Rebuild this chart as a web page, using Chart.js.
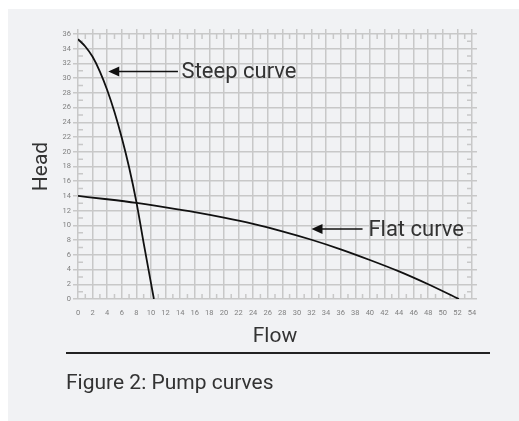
<!DOCTYPE html>
<html>
<head>
<meta charset="utf-8">
<script src="https://cdn.jsdelivr.net/npm/chart.js@4"></script>
<style>
html, body { margin: 0; padding: 0; background: #fff; }
#panel { position: absolute; left: 8px; top: 9px; right: 0; bottom: 0; background: #f1f2f4; }
#wrap { position: absolute; left: 0; top: 0; width: 519px; height: 421px; }
#rule { position: absolute; left: 66px; top: 352px; width: 424px; height: 1.5px; background: #222; }
#caption { position: absolute; left: 66px; top: 370px; font: 21px Roboto, sans-serif; color: #333; }
</style>
</head>
<body>
<div id="panel"></div>
<div id="wrap"><canvas id="chart" width="519" height="421"></canvas></div>
<div id="rule"></div>
<div id="caption">Figure 2: Pump curves</div>
<script>
// pump curves
const steepFlow = [0, 1, 2, 3, 4, 5, 6, 7, 8, 9, 10.4];
const steepHead = [35.3, 34.3, 32.9, 30.9, 28.4, 25.4, 21.9, 17.9, 13.2, 7.6, 0];
const flatFlow = [0, 4, 8, 12, 16, 20, 24, 28, 32, 36, 40, 44, 48, 52.2];
const flatHead = [14, 13.55, 13.05, 12.45, 11.8, 11.05, 10.2, 9.2, 8.05, 6.75, 5.3, 3.75, 2.0, 0];

// axis ranges
const flowMin = 0, flowMax = 54, flowStep = 2;
const headMin = 0, headMax = 36, headStep = 2;

// arrow labels
const noteText = ['Steep curve', 'Flat curve'];
const noteTipFlow = [4.15, 32.0];
const noteTailFlow = [13.7, 39.0];
const noteHead = [30.9, 9.5];
const noteTextFlow = [14.2, 39.8];

const gridColor = '#c8c8c8';
const tickColor = '#808080';
const $ = id => document.getElementById(id);

Chart.defaults.font.family = 'Roboto';

const toPoints = (xs, ys) => xs.map((v, i) => ({x: v, y: ys[i]}));

const extras = {
    id: 'extras',
    beforeDatasetsDraw(chart) {
        const {ctx, chartArea: a, scales: {x, y}} = chart;
        ctx.save();
        ctx.strokeStyle = gridColor;
        ctx.lineWidth = 1.5;
        ctx.beginPath();
        // small inward ticks on odd values
        for (let v = flowMin + 1; v < flowMax; v += 2) {
            const px = x.getPixelForValue(v);
            ctx.moveTo(px, a.bottom); ctx.lineTo(px, a.bottom - 5);
            ctx.moveTo(px, a.top); ctx.lineTo(px, a.top + 5);
        }
        for (let v = headMin + 1; v < headMax; v += 2) {
            const py = y.getPixelForValue(v);
            ctx.moveTo(a.left, py); ctx.lineTo(a.left + 5, py);
            ctx.moveTo(a.right, py); ctx.lineTo(a.right - 5, py);
        }
        ctx.stroke();
        ctx.restore();
    },
    afterDatasetsDraw(chart) {
        const {ctx, scales: {x, y}} = chart;
        ctx.save();
        ctx.strokeStyle = '#111';
        ctx.fillStyle = '#111';
        ctx.lineWidth = 1.5;
        noteText.forEach((t, i) => {
            const tip = x.getPixelForValue(noteTipFlow[i]);
            const tail = x.getPixelForValue(noteTailFlow[i]);
            const py = y.getPixelForValue(noteHead[i]);
            ctx.beginPath();
            ctx.moveTo(tail, py);
            ctx.lineTo(tip + 8, py);
            ctx.stroke();
            ctx.beginPath();
            ctx.moveTo(tip, py);
            ctx.lineTo(tip + 11, py - 5);
            ctx.lineTo(tip + 11, py + 5);
            ctx.closePath();
            ctx.fill();
            ctx.fillStyle = '#333';
            ctx.font = '22px Roboto';
            ctx.textBaseline = 'middle';
            ctx.fillText(t, x.getPixelForValue(noteTextFlow[i]), py + 1);
            ctx.fillStyle = '#111';
        });
        ctx.restore();
    }
};

const ctx = $('chart').getContext('2d');
new Chart(ctx, {
    type: 'line',
    data: {
        datasets: [
            {
                label: 'Steep curve',
                data: toPoints(steepFlow, steepHead),
                borderColor: '#111',
                borderWidth: 1.8,
                pointRadius: 0,
                cubicInterpolationMode: 'monotone',
                fill: false
            },
            {
                label: 'Flat curve',
                data: toPoints(flatFlow, flatHead),
                borderColor: '#111',
                borderWidth: 1.8,
                pointRadius: 0,
                cubicInterpolationMode: 'monotone',
                fill: false
            }
        ]
    },
    options: {
        responsive: false,
        animation: false,
        layout: {padding: {left: 0, right: 0, top: 0, bottom: 72}},
        plugins: {legend: {display: false}, tooltip: {enabled: false}},
        scales: {
            x: {
                type: 'linear', min: flowMin, max: flowMax,
                ticks: {stepSize: flowStep, color: tickColor, font: {size: 7.5}, padding: 10, maxRotation: 0, autoSkip: false},
                grid: {color: gridColor, lineWidth: 1.5, drawTicks: false},
                border: {display: false},
                title: {display: true, text: 'Flow', color: '#333', font: {size: 21}, padding: 0},
                afterFit: s => { s.height = 50; }
            },
            y: {
                type: 'linear', min: headMin, max: headMax,
                ticks: {stepSize: headStep, color: tickColor, font: {size: 7.5}, padding: 2, autoSkip: false},
                grid: {color: gridColor, lineWidth: 1.5, tickLength: 5},
                border: {display: false},
                title: {display: true, text: 'Head', color: '#333', font: {size: 21}, padding: {top: 29, bottom: 0}},
                afterFit: s => { s.width = 78; }
            },
            x2: {
                type: 'linear', position: 'top', min: flowMin, max: flowMax,
                ticks: {stepSize: flowStep, display: false},
                grid: {color: gridColor, lineWidth: 1.5, tickLength: 5, drawOnChartArea: false},
                border: {display: false},
                afterFit: s => { s.height = 34; }
            },
            y2: {
                type: 'linear', position: 'right', min: headMin, max: headMax,
                ticks: {stepSize: headStep, display: false},
                grid: {color: gridColor, lineWidth: 1.5, tickLength: 5, drawOnChartArea: false},
                border: {display: false},
                afterFit: s => { s.width = 47; }
            }
        }
    },
    plugins: [extras]
});
</script>
</body>
</html>
